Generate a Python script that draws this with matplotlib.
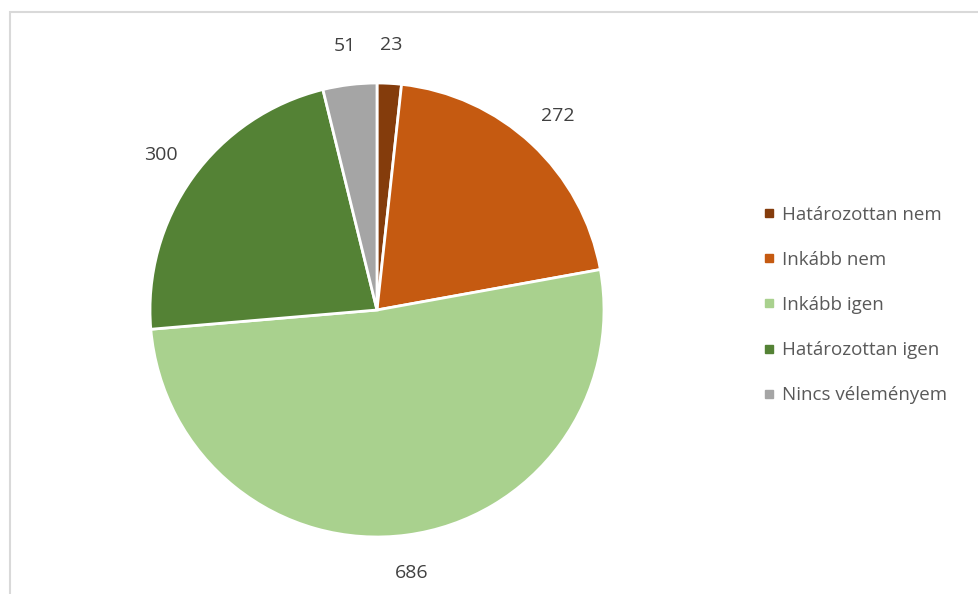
import matplotlib
matplotlib.use("Agg")
import matplotlib.pyplot as plt
from matplotlib.lines import Line2D
from matplotlib.patches import Rectangle

# Survey answers and counts
categories = ["Határozottan nem", "Inkább nem", "Inkább igen",
              "Határozottan igen", "Nincs véleményem"]
counts = [23, 272, 686, 300, 51]
colors = ["#843C0C", "#C55A11", "#A9D18E", "#548235", "#A5A5A5"]

plt.rcParams["font.family"] = ["Open Sans", "DejaVu Sans"]

W, H = 979, 594
fig = plt.figure(figsize=(W / 100, H / 100), dpi=100)

# light chart-area frame (top and left edges visible)
fig.patches.append(Rectangle((10 / W, -0.1), 1.2, (H - 12) / H + 0.1,
                             transform=fig.transFigure, fill=False,
                             edgecolor="#D9D9D9", linewidth=1.5))

cx, cy, r = 377, 310, 227
ax = fig.add_axes([(cx - r) / W, (H - cy - r) / H, 2 * r / W, 2 * r / H])

wedges, texts = ax.pie(counts, colors=colors, startangle=90, counterclock=False,
                       labels=[str(c) for c in counts], labeldistance=1.17,
                       wedgeprops=dict(edgecolor="white", linewidth=2))
for t in texts:
    t.set_fontsize(14)
    t.set_color("#404040")
    t.set_ha("center")
    t.set_va("center")
ax.set_xlim(-1, 1)
ax.set_ylim(-1, 1)
ax.set_aspect("equal")

handles = [Line2D([0], [0], marker="s", linestyle="none", markersize=6,
                  markerfacecolor=c, markeredgecolor=c) for c in colors]
fig.legend(handles, categories, loc="center left",
           bbox_to_anchor=(755 / W, (H - 305) / H), frameon=False,
           fontsize=13.5, labelcolor="#595959", handlelength=0.7,
           handletextpad=0.35, labelspacing=1.45, borderaxespad=0)

fig.savefig("out.png", dpi=100, facecolor="white")
